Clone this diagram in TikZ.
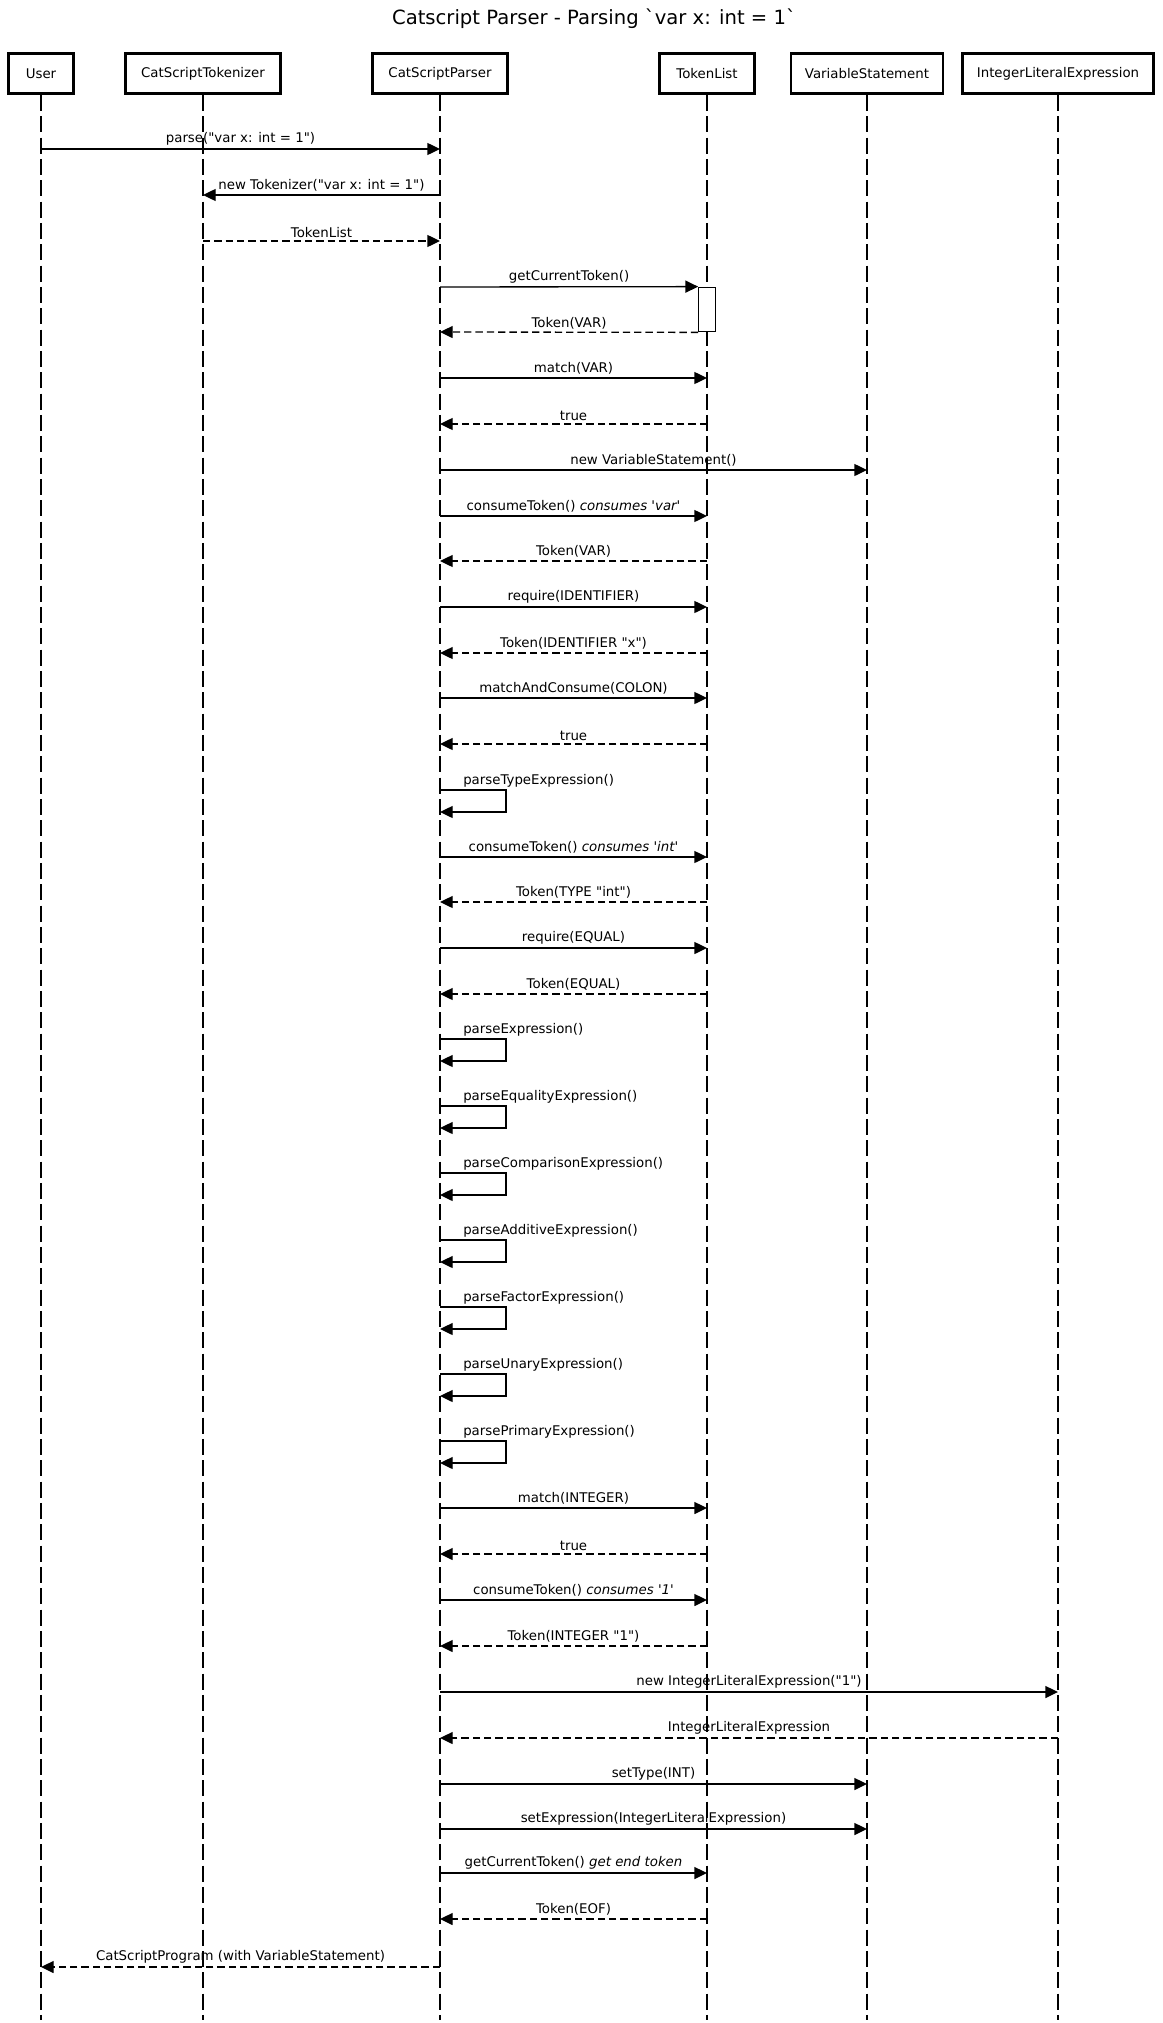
\documentclass[tikz,border=0pt]{standalone}
\usepackage{fontspec}
\setmainfont{DejaVu Sans}
\usetikzlibrary{arrows.meta}
\begin{document}
\begin{tikzpicture}[x=0.75pt,y=-0.75pt,
  font=\fontsize{10}{12}\selectfont,
  head/.style={draw,line width=2.2pt,minimum height=30pt,inner sep=0pt},
  lifeline/.style={line width=0.95pt,dash pattern=on 12pt off 4pt},
  call/.style={line width=1pt,-{Triangle[length=9.5pt,width=9pt]}},
  reply/.style={call,dash pattern=on 5.5pt off 3pt},
  msg/.style={above,inner sep=2pt}]
\useasboundingbox (0,0) rectangle (1163,2023);
\node[anchor=base,font=\fontsize{14.7}{17}\selectfont] (title) at (594,25)
  {Catscript Parser - Parsing \textasciigrave var x: int = 1\textasciigrave};
% participants
\node[head,minimum width=49pt]  (usr) at (41,73.5)   {User};
\node[head,minimum width=116pt] (tok) at (203,73.5)  {CatScriptTokenizer};
\node[head,minimum width=101pt] (prs) at (440,73.5)  {CatScriptParser};
\node[head,minimum width=71pt]  (lst) at (707,73.5)  {TokenList};
\node[head,minimum width=114pt] (vst) at (867,73.5)  {VariableStatement};
\node[head,minimum width=143pt] (ile) at (1058,73.5) {IntegerLiteralExpression};
\foreach \n in {usr,tok,prs,lst,vst,ile}
{   \draw[lifeline] (\n.south) -- (\n |- 0,2020);
}
\node[draw,fill=white,line width=0.8pt,minimum width=12.5pt,minimum height=33.5pt,
  inner sep=0pt] (act) at (707,309.5) {};
\draw[call] (prs |- 0,287) -- node[msg] (m287) {getCurrentToken()} (act.north west);
\draw[reply] (act.south west) -- node[msg] (m332) {Token(VAR)} (prs |- 0,332);
% calls
\foreach \y/\src/\dst/\txt in {149/usr/prs/{parse(\textquotedbl var x: int = 1\textquotedbl)},
    195/prs/tok/{new Tokenizer(\textquotedbl var x: int = 1\textquotedbl)},
    378/prs/lst/{match(VAR)},
    470/prs/vst/{new VariableStatement()},
    516/prs/lst/{consumeToken() \textit{consumes \textquotesingle var\textquotesingle}},
    607/prs/lst/{require(IDENTIFIER)},
    698/prs/lst/{matchAndConsume(COLON)},
    857/prs/lst/{consumeToken() \textit{consumes \textquotesingle int\textquotesingle}},
    948/prs/lst/{require(EQUAL)},
    1508/prs/lst/{match(INTEGER)},
    1600/prs/lst/{consumeToken() \textit{consumes \textquotesingle 1\textquotesingle}},
    1692/prs/ile/{new IntegerLiteralExpression(\textquotedbl 1\textquotedbl)},
    1784/prs/vst/{setType(INT)},
    1829/prs/vst/{setExpression(IntegerLiteralExpression)},
    1873/prs/lst/{getCurrentToken() \textit{get end token}}}
{   \draw[call] (\src |- 0,\y) -- node[msg] (m\y) {\txt} (\dst |- 0,\y);
}
% replies
\foreach \y/\src/\dst/\txt in {241/tok/prs/TokenList,
    424/lst/prs/true,
    561/lst/prs/{Token(VAR)},
    653/lst/prs/{Token(IDENTIFIER \textquotedbl x\textquotedbl)},
    744/lst/prs/true,
    902/lst/prs/{Token(TYPE \textquotedbl int\textquotedbl)},
    994/lst/prs/{Token(EQUAL)},
    1554/lst/prs/true,
    1646/lst/prs/{Token(INTEGER \textquotedbl 1\textquotedbl)},
    1738/ile/prs/IntegerLiteralExpression,
    1919/lst/prs/{Token(EOF)},
    1967/prs/usr/{CatScriptProgram (with VariableStatement)}}
{   \draw[reply] (\src |- 0,\y) -- node[msg] (m\y) {\txt} (\dst |- 0,\y);
}
% self calls
\foreach \y/\txt in {790/parseTypeExpression(),
    1039/parseExpression(),
    1106/parseEqualityExpression(),
    1173/parseComparisonExpression(),
    1240/parseAdditiveExpression(),
    1307/parseFactorExpression(),
    1374/parseUnaryExpression(),
    1441/parsePrimaryExpression()}
{   \draw[call] (prs |- 0,\y) -- ++(66,0) -- ++(0,22) -- (prs |- 0,{\y+22});
    \node[anchor=base west,inner sep=0pt] (s\y) at (463,\y-6) {\txt};
}
\end{tikzpicture}
\end{document}
